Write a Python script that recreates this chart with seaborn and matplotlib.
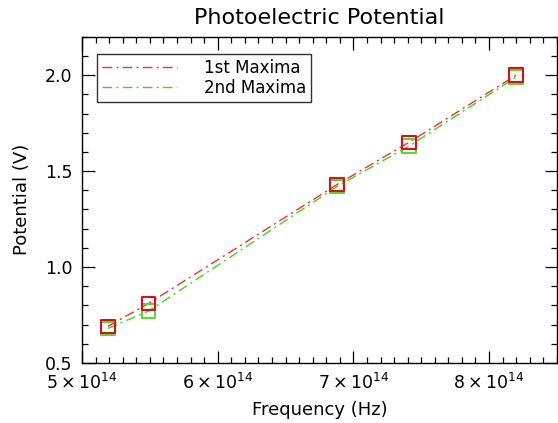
import matplotlib
matplotlib.use("Agg")
import matplotlib.pyplot as plt
import seaborn as sns
import pandas as pd
from matplotlib.ticker import MultipleLocator, FixedLocator

frequency = [5.19e14, 5.49e14, 6.88e14, 7.41e14, 8.20e14]
first_maxima = [0.69, 0.81, 1.43, 1.65, 2.00]
second_maxima = [0.68, 0.77, 1.42, 1.63, 1.99]
series_names = ["1st Maxima", "2nd Maxima"]
x_ticks = [5e14, 6e14, 7e14, 8e14]
x_tick_labels = [r"$5\times10^{14}$", r"$6\times10^{14}$", r"$7\times10^{14}$", r"$8\times10^{14}$"]
y_ticks = [0.5, 1.0, 1.5, 2.0]
y_tick_labels = ["0.5", "1.0", "1.5", "2.0"]

sns.set_style("ticks")
plt.rcParams["font.family"] = ["DejaVu Sans"]
plt.rcParams["mathtext.fontset"] = "dejavusans"
plt.rcParams["text.color"] = "black"
plt.rcParams["axes.labelcolor"] = "black"
plt.rcParams["xtick.color"] = "black"
plt.rcParams["ytick.color"] = "black"

df = pd.DataFrame({
    "Frequency": frequency * 2,
    "Potential": first_maxima + second_maxima,
    "Series": [series_names[0]] * len(frequency) + [series_names[1]] * len(frequency),
})

line_colors = {"1st Maxima": "#ff2a3a", "2nd Maxima": "#44d41c"}
marker_colors = {"1st Maxima": "#d8101c", "2nd Maxima": "#5ad838"}

fig = plt.figure(figsize=(5.58, 4.23), dpi=100)
ax = fig.add_axes([0.147, 0.142, 0.851, 0.771])

for name in series_names:
    sub = df[df["Series"] == name]
    sns.lineplot(data=sub, x="Frequency", y="Potential", ax=ax, color=line_colors[name],
                 linestyle=(0, (7, 3, 1.5, 3)), linewidth=1.0, label=name, sort=False)
for name in series_names[::-1]:
    sub = df[df["Series"] == name]
    sns.scatterplot(data=sub, x="Frequency", y="Potential", ax=ax, marker="s", s=95,
                    facecolors="none", edgecolor=marker_colors[name], linewidth=1.5,
                    legend=False, zorder=3)

ax.set_xlim(5e14, 8.5e14)
ax.set_ylim(0.5, 2.2)
ax.xaxis.set_major_locator(FixedLocator(x_ticks))
ax.set_xticklabels(x_tick_labels)
ax.xaxis.set_minor_locator(MultipleLocator(1e13))
ax.yaxis.set_major_locator(FixedLocator(y_ticks))
ax.set_yticklabels(y_tick_labels)
ax.yaxis.set_minor_locator(MultipleLocator(0.1))
ax.tick_params(which="both", direction="in", top=True, right=True, labelsize=12.5,
               color="black", labelcolor="black", width=0.9)
ax.tick_params(which="major", length=9, pad=7)
ax.tick_params(which="minor", length=4.5)
for sp in ax.spines.values():
    sp.set_linewidth(1.0)
    sp.set_color("black")

ax.set_xlabel("Frequency (Hz)", fontsize=13, labelpad=6, color="black")
ax.set_ylabel("Potential (V)", fontsize=13, labelpad=10, color="black")
ax.set_title("Photoelectric Potential", fontsize=16, pad=9, color="black")

leg = ax.legend(loc="upper left", bbox_to_anchor=(0.032, 0.948), fontsize=12,
                frameon=True, fancybox=False, handlelength=4.5, handletextpad=1.6,
                borderpad=0.3, labelspacing=0.15, borderaxespad=0)
leg.get_frame().set_edgecolor("black")
leg.get_frame().set_linewidth(1.0)
for t in leg.get_texts():
    t.set_color("black")

fig.savefig("out.png", dpi=100)
